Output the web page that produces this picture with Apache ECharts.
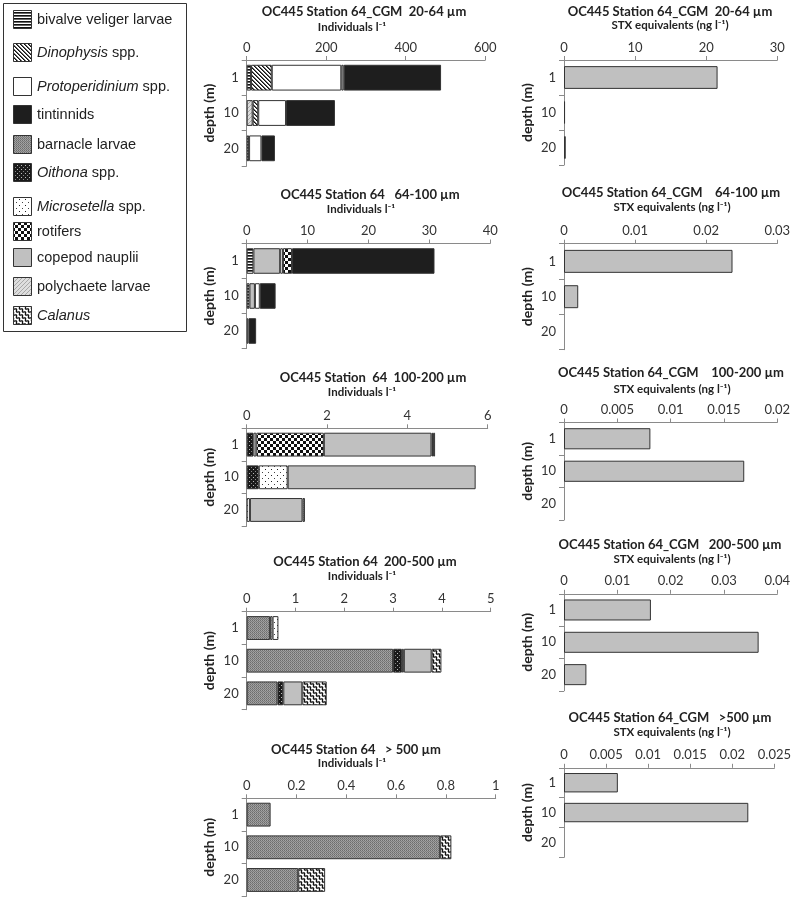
<!DOCTYPE html>
<html><head><meta charset="utf-8">
<script src="https://cdn.jsdelivr.net/npm/echarts@6/dist/echarts.min.js"></script>
<style>html,body{margin:0;padding:0;background:#fff}#c{width:794px;height:900px}</style>
</head><body><div id="c"></div>
<script>
// ---------- DATA ----------
const depths = ['1', '10', '20'];

// Legend entries (legend order)
const legendTaxa = ['bivalve veliger larvae', 'Dinophysis spp.', 'Protoperidinium spp.', 'tintinnids',
  'barnacle larvae', 'Oithona spp.', 'Microsetella spp.', 'rotifers', 'copepod nauplii',
  'polychaete larvae', 'Calanus'];
const legendLabels = ['bivalve veliger larvae', '{i|Dinophysis} spp.', '{i|Protoperidinium} spp.', 'tintinnids',
  'barnacle larvae', '{i|Oithona} spp.', '{i|Microsetella} spp.', 'rotifers', 'copepod nauplii',
  'polychaete larvae', '{i|Calanus}'];

// Individuals l-1, 20-64 µm (stack order, values at depth 1, 10, 20 m)
const f20_64_taxa = ['polychaete larvae', 'bivalve veliger larvae', 'Dinophysis spp.', 'Protoperidinium spp.', 'copepod nauplii', 'tintinnids'];
const f20_64_vals = [[0, 15, 0], [11, 0, 6], [52, 14, 0], [175, 70, 31], [6, 0, 0], [245, 123, 34]];

// Individuals l-1, 64-100 µm
const f64_100_taxa = ['bivalve veliger larvae', 'copepod nauplii', 'Protoperidinium spp.', 'rotifers', 'tintinnids'];
const f64_100_vals = [[1.1, 0.45, 0], [4.4, 0.9, 0.3], [0.45, 0.8, 0], [1.5, 0, 0], [23.4, 2.6, 1.25]];

// Individuals l-1, 100-200 µm
const f100_200_taxa = ['Oithona spp.', 'Microsetella spp.', 'rotifers', 'copepod nauplii', 'barnacle larvae', 'polychaete larvae'];
const f100_200_vals = [[0.17, 0.3, 0], [0.07, 0.72, 0.08], [1.68, 0, 0], [2.68, 4.68, 1.31], [0.04, 0, 0.06], [0.05, 0, 0]];

// Individuals l-1, 200-500 µm
const f200_500_taxa = ['barnacle larvae', 'Oithona spp.', 'polychaete larvae', 'copepod nauplii', 'Microsetella spp.', 'Calanus'];
const f200_500_vals = [[0.48, 3.0, 0.63], [0, 0.18, 0.12], [0.05, 0.04, 0], [0, 0.57, 0.39], [0.12, 0, 0], [0, 0.2, 0.5]];

// Individuals l-1, >500 µm
const f500_taxa = ['barnacle larvae', 'Calanus'];
const f500_vals = [[0.096, 0.777, 0.207], [0, 0.045, 0.108]];

// STX equivalents (ng l-1) at depth 1, 10, 20 m
const stx20_64 = [21.6, 0.15, 0.25];
const stx64_100 = [0.0237, 0.002, 0];
const stx100_200 = [0.0081, 0.0169, 0];
const stx200_500 = [0.0163, 0.0365, 0.0042];
const stx500 = [0.0064, 0.0219, 0];

// Axis ticks
const indMax = [600, 40, 6, 5, 1];
const indStep = [200, 10, 2, 1, 0.2];
const stxMax = [30, 0.03, 0.02, 0.04, 0.025];
const stxStep = [10, 0.01, 0.005, 0.01, 0.005];

// Titles
const indTitles = ['OC445 Station 64_CGM  20-64 µm', 'OC445 Station 64   64-100 µm', 'OC445 Station  64  100-200 µm',
  'OC445 Station 64  200-500 µm', 'OC445 Station 64   > 500 µm'];
const stxTitles = ['OC445 Station 64_CGM  20-64 µm', 'OC445 Station 64_CGM    64-100 µm', 'OC445 Station 64_CGM    100-200 µm',
  'OC445 Station 64_CGM   200-500 µm', 'OC445 Station 64_CGM   >500 µm'];
const indSub = 'Individuals l⁻¹';
const stxSub = 'STX equivalents (ng l⁻¹)';

// ---------- PATTERNS ----------
function pat(w, h, draw) {
  const c = document.createElement('canvas'); c.width = w; c.height = h;
  const g = c.getContext('2d'); draw(g, w, h);
  return { image: c, repeat: 'repeat' };
}
function px(g, x, y, col) { g.fillStyle = col; g.fillRect(x, y, 1, 1); }
const fills = {
  'bivalve veliger larvae': pat(4, 3, g => { g.fillStyle = '#fff'; g.fillRect(0, 0, 4, 3); g.fillStyle = '#111'; g.fillRect(0, 0, 4, 1); g.fillStyle = '#666'; g.fillRect(0, 1, 4, 1); }),
  'Dinophysis spp.': pat(4, 4, g => { g.fillStyle = '#fff'; g.fillRect(0, 0, 4, 4); for (let y = 0; y < 4; y++) { px(g, y, y, '#111'); px(g, (y + 1) % 4, y, '#666'); } }),
  'Protoperidinium spp.': '#ffffff',
  'tintinnids': '#1e1e1e',
  'barnacle larvae': pat(2, 2, g => { px(g, 0, 0, '#6c6c6c'); px(g, 1, 1, '#7c7c7c'); px(g, 1, 0, '#a6a6a6'); px(g, 0, 1, '#9a9a9a'); }),
  'Oithona spp.': pat(4, 4, g => { g.fillStyle = '#1a1a1a'; g.fillRect(0, 0, 4, 4); px(g, 1, 1, '#bbb'); px(g, 3, 3, '#888'); }),
  'Microsetella spp.': pat(6, 6, g => { g.fillStyle = '#fff'; g.fillRect(0, 0, 6, 6); px(g, 1, 1, '#222'); px(g, 4, 4, '#444'); }),
  'rotifers': pat(6, 6, g => { g.fillStyle = '#fff'; g.fillRect(0, 0, 6, 6); g.fillStyle = '#111'; g.fillRect(0, 0, 3, 3); g.fillRect(3, 3, 3, 3); }),
  'copepod nauplii': '#c0c0c0',
  'polychaete larvae': pat(4, 4, g => { g.fillStyle = '#dedede'; g.fillRect(0, 0, 4, 4); for (let y = 0; y < 4; y++) px(g, 3 - y, y, '#a8a8a8'); }),
  'Calanus': pat(6, 6, g => {
    g.fillStyle = '#fff'; g.fillRect(0, 0, 6, 6); g.strokeStyle = '#111'; g.lineWidth = 1.3;
    for (const off of [-12, -6, 0, 6, 12]) {
      g.beginPath();
      for (let t = -6; t <= 12; t += 0.25) {
        const a = 0.7 * Math.sin(2 * Math.PI * t / 3);
        const x = t + off + a, y = t - a;
        if (t === -6) g.moveTo(x, y); else g.lineTo(x, y);
      }
      g.stroke();
    }
  })
};

// ---------- LAYOUT ----------
const LF = 'Lato';
const leftGrid = { left: 246.7, width: [238.5, 243.5, 241, 244, 249], top: [60, 243.5, 428.3, 611.7, 798.3], height: [106, 105, 98, 98, 98] };
const rightGrid = { left: 564, width: 213.3, top: [60, 243.7, 422.5, 593.8, 767.8], height: [105, 106, 97.5, 97, 89.5] };
const titlePos = {
  L: { x: [364, 370, 373, 365, 356], y: [12, 195, 378, 562, 750], sx: [352, 361, 362, 362, 352], sy: [27.5, 209.5, 392, 576, 763] },
  R: { x: [670, 671, 671, 670, 670], y: [12, 193, 373, 545, 718], sx: [670, 672, 672, 672, 672], sy: [25, 207.5, 389, 559, 732] }
};
const legendY = [20, 53, 87, 115, 145, 173, 207, 232, 258, 287, 316];

const indTaxa = [f20_64_taxa, f64_100_taxa, f100_200_taxa, f200_500_taxa, f500_taxa];
const indVals = [f20_64_vals, f64_100_vals, f100_200_vals, f200_500_vals, f500_vals];
const stxVals = [stx20_64, stx64_100, stx100_200, stx200_500, stx500];

const grids = [], xAxes = [], yAxes = [], series = [], titles = [];
const axisCol = '#8a8a8a';
function fmt(v) { return String(+(+v).toFixed(4)); }
function mkX(i, max, step) {
  return { type: 'value', gridIndex: i, position: 'top', min: 0, max: max, interval: step,
    axisLine: { show: true, onZero: false, lineStyle: { color: axisCol, width: 1 } },
    axisTick: { show: true, length: 4, lineStyle: { color: axisCol } },
    splitLine: { show: false },
    axisLabel: { margin: 6, fontSize: 13, color: '#333', fontFamily: LF, formatter: fmt } };
}
function mkY(i) {
  return { type: 'category', gridIndex: i, data: depths, inverse: true,
    axisLine: { show: true, onZero: false, lineStyle: { color: axisCol } },
    axisTick: { show: true, length: 5, lineStyle: { color: axisCol } },
    axisLabel: { margin: 8, fontSize: 13, color: '#333', fontFamily: LF },
    name: 'depth (m)', nameLocation: 'middle', nameGap: 30,
    nameTextStyle: { fontFamily: LF, fontWeight: 'bold', fontSize: 14, color: '#222' } };
}
function mkTitle(text, x, y, size) {
  return { text: text, left: x, top: y - (size + 2) / 2, textAlign: 'center', padding: 0,
    textStyle: { fontFamily: LF, fontWeight: 'bold', fontSize: size, lineHeight: size + 2, color: '#222' } };
}
const nz = v => (v === 0 ? '-' : v);

for (let p = 0; p < 5; p++) {
  grids.push({ left: leftGrid.left, width: leftGrid.width[p], top: leftGrid.top[p], height: leftGrid.height[p] });
  xAxes.push(mkX(p, indMax[p], indStep[p]));
  yAxes.push(mkY(p));
  indTaxa[p].forEach((t, k) => {
    series.push({ type: 'bar', name: t, stack: 'L' + p, xAxisIndex: p, yAxisIndex: p, barCategoryGap: '27%',
      data: indVals[p][k].map(nz), silent: true,
      itemStyle: { color: fills[t], borderColor: '#333', borderWidth: 1 } });
  });
  titles.push(mkTitle(indTitles[p], titlePos.L.x[p], titlePos.L.y[p], 13));
  titles.push(mkTitle(indSub, titlePos.L.sx[p], titlePos.L.sy[p], 11.5));
}
for (let p = 0; p < 5; p++) {
  const i = 5 + p;
  grids.push({ left: rightGrid.left, width: rightGrid.width, top: rightGrid.top[p], height: rightGrid.height[p] });
  xAxes.push(mkX(i, stxMax[p], stxStep[p]));
  yAxes.push(mkY(i));
  series.push({ type: 'bar', name: 'STX', xAxisIndex: i, yAxisIndex: i, barCategoryGap: '35%',
    data: stxVals[p].map(nz), silent: true,
    itemStyle: { color: '#c0c0c0', borderColor: '#333', borderWidth: 1 } });
  titles.push(mkTitle(stxTitles[p], titlePos.R.x[p], titlePos.R.y[p], 13));
  titles.push(mkTitle(stxSub, titlePos.R.sx[p], titlePos.R.sy[p], 11.5));
}

// Legend (drawn as graphic)
const legendEls = [{ type: 'rect', shape: { x: 3.5, y: 3.5, width: 183, height: 328 }, style: { fill: 'none', stroke: '#333', lineWidth: 1 } }];
legendTaxa.forEach((t, k) => {
  const c = legendY[k];
  legendEls.push({ type: 'rect', shape: { x: 13.5, y: c - 9.5, width: 18, height: 18 }, style: { fill: fills[t], stroke: '#333', lineWidth: 1 } });
  legendEls.push({ type: 'text', x: 37, y: c, style: { text: legendLabels[k], fontSize: 14.5, fontFamily: 'Liberation Sans', fill: '#222', verticalAlign: 'middle',
    rich: { i: { fontStyle: 'italic', fontSize: 14.5, fontFamily: 'Liberation Sans', fill: '#222' } } } });
});

const chart = echarts.init(document.getElementById('c'), null, { renderer: 'canvas' });
chart.setOption({
  backgroundColor: '#fff', animation: false,
  title: titles, grid: grids, xAxis: xAxes, yAxis: yAxes, series: series,
  graphic: legendEls
});
</script></body></html>
